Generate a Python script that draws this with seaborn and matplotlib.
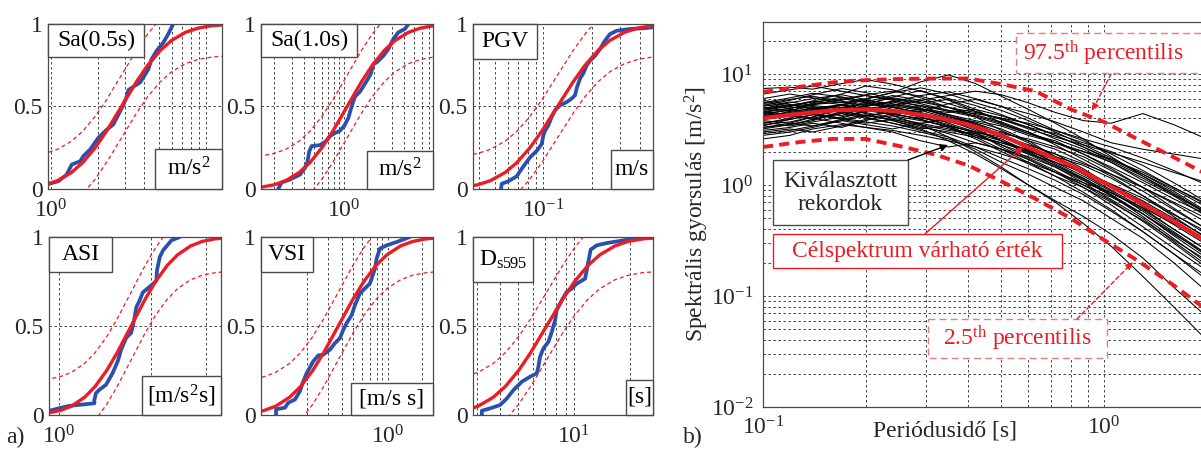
import numpy as np
import pandas as pd
import matplotlib
matplotlib.use("Agg")
import matplotlib.pyplot as plt
import seaborn as sns
from matplotlib.patches import Rectangle, FancyArrowPatch
from matplotlib.ticker import NullFormatter

sns.set_style("white")
plt.rcParams["font.family"] = ["Liberation Serif", "DejaVu Serif"]
plt.rcParams["mathtext.fontset"] = "custom"
plt.rcParams["mathtext.rm"] = "Liberation Serif"
plt.rcParams["mathtext.it"] = "Liberation Serif:italic"
plt.rcParams["mathtext.bf"] = "Liberation Serif:bold"
plt.rcParams["mathtext.default"] = "regular"

# ------------------------------------------------------------------ data a)
panel_names = ["Sa(0.5s)", "Sa(1.0s)", "PGV", "ASI", "VSI", r"D$_{\mathrm{s595}}$"]
panel_units = ["m/s$^2$", "m/s$^2$", "m/s", "[m/s$^2$s]", "[m/s s]", "[s]"]

# fitted lognormal CDF read at probability levels, with KS band levels
cdf_levels = [0.003, 0.01, 0.025, 0.05, 0.10, 0.16, 0.25, 0.35, 0.50, 0.65, 0.75, 0.84, 0.90, 0.95, 0.975, 0.99, 0.997]
band_upper = [0.193, 0.20, 0.215, 0.24, 0.29, 0.35, 0.44, 0.54, 0.69, 0.84, 0.94, 1.03, 1.09, 1.14, 1.165, 1.18, 1.187]
band_lower = [-0.187, -0.18, -0.165, -0.14, -0.09, -0.03, 0.06, 0.16, 0.31, 0.46, 0.56, 0.65, 0.71, 0.76, 0.785, 0.80, 0.807]

fit_x_sa05 = [0.578, 0.740, 0.914, 1.098, 1.356, 1.601, 1.928, 2.280, 2.85, 3.563, 4.212, 5.076, 5.991, 7.399, 8.883, 10.98, 14.04]
fit_x_sa10 = [0.1007, 0.145, 0.1988, 0.2609, 0.3568, 0.4568, 0.6019, 0.7721, 1.075, 1.497, 1.920, 2.531, 3.239, 4.429, 5.815, 7.967, 11.48]
fit_x_pgv = [0.02459, 0.03151, 0.03898, 0.04686, 0.05798, 0.06859, 0.08261, 0.09782, 0.1225, 0.1534, 0.1817, 0.2188, 0.2588, 0.3202, 0.3849, 0.4763, 0.6104]
fit_x_asi = [0.8127, 0.9117, 1.0075, 1.098, 1.2117, 1.3102, 1.4294, 1.5463, 1.717, 1.9066, 2.0625, 2.2501, 2.4332, 2.6849, 2.926, 3.2335, 3.6277]
fit_x_vsi = [0.04602, 0.0635, 0.08385, 0.1066, 0.1405, 0.1748, 0.2229, 0.2776, 0.372, 0.4985, 0.6209, 0.7916, 0.9851, 1.298, 1.651, 2.180, 3.008]
fit_x_ds = [1.728, 2.149, 2.596, 3.052, 3.680, 4.267, 5.032, 5.841, 7.12, 8.679, 10.07, 11.88, 13.78, 16.61, 19.53, 23.60, 29.33]

# empirical CDFs of the selected records
emp_x_sa05 = [0.96, 1.114, 1.262, 1.36, 1.54, 1.62, 1.79, 2.02, 2.29, 2.52, 2.72, 2.86, 3.08, 3.16, 3.40, 3.75, 3.94, 4.25, 4.46, 4.81, 5.31, 5.71, 6.15]
emp_F_sa05 = [0.03, 0.047, 0.087, 0.148, 0.168, 0.20, 0.24, 0.31, 0.36, 0.39, 0.45, 0.49, 0.56, 0.60, 0.62, 0.645, 0.675, 0.726, 0.787, 0.838, 0.888, 0.939, 1.0]
emp_x_sa10 = [0.220, 0.238, 0.288, 0.363, 0.407, 0.429, 0.450, 0.475, 0.575, 0.661, 0.724, 0.813, 0.898, 1.0, 1.105, 1.166, 1.222, 1.288, 1.445, 1.686, 1.849, 1.965, 2.123, 2.472, 2.774, 3.112, 3.49, 4.07, 4.40]
emp_F_sa10 = [0.0, 0.04, 0.057, 0.087, 0.128, 0.158, 0.229, 0.26, 0.266, 0.29, 0.32, 0.34, 0.35, 0.38, 0.43, 0.48, 0.52, 0.56, 0.59, 0.655, 0.696, 0.757, 0.767, 0.807, 0.848, 0.909, 0.949, 0.97, 1.0]
emp_x_pgv = [0.0546, 0.0552, 0.0607, 0.0684, 0.0717, 0.0769, 0.0826, 0.091, 0.0977, 0.100, 0.1025, 0.1074, 0.1127, 0.1182, 0.127, 0.1397, 0.150, 0.1574, 0.161, 0.169, 0.177, 0.186, 0.195, 0.2094, 0.2249, 0.2415, 0.2595, 0.2858, 0.346, 0.418, 0.479]
emp_F_pgv = [0.0, 0.032, 0.047, 0.077, 0.108, 0.150, 0.191, 0.231, 0.272, 0.323, 0.353, 0.385, 0.436, 0.477, 0.507, 0.527, 0.548, 0.568, 0.609, 0.669, 0.700, 0.75, 0.777, 0.807, 0.848, 0.899, 0.939, 0.959, 0.970, 0.974, 0.980]
emp_x_asi = [0.927, 1.0, 1.078, 1.163, 1.303, 1.303, 1.319, 1.353, 1.422, 1.495, 1.553, 1.593, 1.655, 1.718, 1.762, 1.784, 1.828, 1.875, 2.023, 2.075, 2.084, 2.128, 2.182, 2.323, 2.473]
emp_F_asi = [0.023, 0.038, 0.051, 0.057, 0.066, 0.085, 0.123, 0.142, 0.17, 0.236, 0.302, 0.368, 0.434, 0.462, 0.547, 0.604, 0.642, 0.689, 0.736, 0.755, 0.811, 0.887, 0.925, 0.981, 1.0]
emp_x_vsi = [0.1069, 0.1069, 0.1279, 0.1367, 0.1563, 0.1726, 0.1824, 0.1977, 0.2256, 0.2493, 0.2754, 0.3148, 0.3481, 0.3846, 0.4111, 0.4395, 0.4864, 0.5198, 0.5741, 0.635, 0.7015, 0.776, 0.802, 0.857, 0.98, 1.197, 1.563]
emp_F_vsi = [0.0, 0.032, 0.041, 0.069, 0.087, 0.134, 0.181, 0.236, 0.302, 0.335, 0.339, 0.367, 0.404, 0.432, 0.479, 0.516, 0.562, 0.618, 0.684, 0.711, 0.739, 0.823, 0.879, 0.935, 0.953, 0.972, 1.0]
emp_x_ds = [3.19, 3.19, 3.53, 4.0, 4.35, 4.72, 5.24, 5.80, 6.30, 6.43, 6.56, 6.84, 7.28, 7.59, 7.91, 8.07, 8.59, 9.14, 9.72, 10.34, 11.47, 11.79, 12.29, 13.24, 14.99, 18.41, 22.6, 26.6]
emp_F_ds = [0.0, 0.024, 0.037, 0.056, 0.093, 0.140, 0.187, 0.215, 0.234, 0.271, 0.327, 0.374, 0.411, 0.467, 0.533, 0.589, 0.645, 0.692, 0.710, 0.738, 0.766, 0.832, 0.929, 0.953, 0.966, 0.981, 0.996, 1.0]

# axis limits / labelled decades / minor grid positions
xlims = [(0.956, 12.7), (0.148, 7.76), (0.0366, 0.480), (0.927, 3.37), (0.0791, 2.48), (2.86, 26.6)]
major_ticks = [[1], [1], [0.1], [1], [1], [10]]
major_labels = [[r"$10^{0}$"], [r"$10^{0}$"], [r"$10^{-1}$"], [r"$10^{0}$"], [r"$10^{0}$"], [r"$10^{1}$"]]
minor_ticks = [[2, 3, 4, 5, 6, 7, 8, 9, 10],
               [0.2, 0.3, 0.4, 0.5, 0.6, 0.7, 0.8, 0.9, 2, 3, 4, 5, 6, 7],
               [0.04, 0.05, 0.06, 0.07, 0.08, 0.09, 0.2, 0.3, 0.4],
               [2, 3],
               [0.2, 0.3, 0.4, 0.5, 0.6, 0.7, 0.8, 0.9, 2],
               [3, 4, 5, 6, 7, 8, 9, 20]]
cdf_yticks = [0, 0.5, 1]
cdf_yticklabels = ["0", "0.5", "1"]

# ------------------------------------------------------------------ data b)
periods_rec = [0.10, 0.12, 0.14, 0.17, 0.20, 0.24, 0.29, 0.35, 0.42, 0.50, 0.60, 0.72, 0.87, 1.05, 1.30, 1.60, 2.00]
rec_01 = [5.2, 5.8, 6.5, 7.4, 6.8, 6.0, 5.5, 5.9, 4.8, 3.6, 2.9, 2.5, 1.9, 1.4, 0.95, 0.62, 0.40]
rec_02 = [3.6, 4.0, 4.6, 4.2, 5.1, 5.6, 4.9, 4.1, 3.7, 3.2, 2.5, 1.8, 1.5, 1.15, 0.80, 0.55, 0.36]
rec_03 = [4.5, 4.2, 3.9, 4.4, 5.3, 6.2, 7.1, 5.8, 4.6, 3.9, 3.3, 2.6, 2.1, 1.6, 1.1, 0.80, 0.52]
rec_04 = [2.9, 3.1, 3.4, 3.9, 4.3, 3.8, 3.3, 3.0, 2.7, 2.4, 2.0, 1.7, 1.25, 0.90, 0.62, 0.40, 0.26]
rec_05 = [6.0, 6.6, 6.1, 5.5, 5.9, 6.8, 8.5, 9.8, 8.2, 6.3, 4.8, 3.6, 2.6, 1.8, 1.2, 0.82, 0.55]
rec_06 = [3.3, 3.5, 3.8, 4.6, 5.0, 4.4, 3.9, 3.3, 2.6, 2.0, 1.55, 1.2, 0.95, 0.70, 0.48, 0.32, 0.21]
rec_07 = [4.8, 5.3, 5.0, 4.7, 4.2, 4.5, 5.2, 4.7, 4.4, 4.0, 3.3, 2.9, 2.4, 2.0, 1.5, 1.05, 0.70]
rec_08 = [4.1, 4.6, 5.5, 6.2, 5.7, 5.1, 4.4, 3.6, 3.0, 2.2, 1.7, 1.3, 0.95, 0.66, 0.42, 0.27, 0.17]
rec_09 = [3.8, 3.6, 4.1, 4.9, 4.5, 4.0, 3.6, 3.9, 3.4, 2.9, 2.6, 2.2, 1.8, 1.35, 0.95, 0.70, 0.50]
rec_10 = [5.6, 5.1, 5.7, 6.6, 7.8, 7.2, 6.1, 5.0, 4.1, 3.1, 2.4, 1.8, 1.35, 1.0, 0.70, 0.48, 0.30]
rec_11 = [2.6, 2.8, 3.2, 3.5, 3.3, 3.0, 2.5, 2.2, 2.4, 2.1, 1.7, 1.3, 1.0, 0.78, 0.55, 0.36, 0.24]
rec_12 = [4.3, 4.8, 4.4, 4.0, 4.6, 5.3, 4.9, 4.2, 3.5, 2.7, 2.3, 1.9, 1.4, 0.98, 0.64, 0.44, 0.29]
rec_13 = [5.0, 4.6, 4.9, 5.3, 4.8, 4.3, 4.6, 5.4, 5.9, 5.1, 4.0, 3.1, 2.5, 1.9, 1.35, 0.95, 0.66]
rec_14 = [3.4, 3.9, 4.3, 3.9, 3.6, 3.9, 3.4, 2.9, 2.4, 2.1, 1.8, 1.45, 1.1, 0.80, 0.55, 0.37, 0.23]
rec_15 = [6.6, 7.2, 7.8, 7.0, 6.4, 5.8, 5.1, 4.3, 3.6, 2.8, 2.1, 1.55, 1.15, 0.82, 0.55, 0.35, 0.22]
rec_16 = [4.6, 4.9, 5.4, 5.8, 6.4, 5.9, 5.4, 4.7, 4.2, 3.6, 3.0, 2.3, 1.7, 1.25, 0.88, 0.60, 0.40]
rec_17 = [3.1, 3.3, 3.6, 3.3, 3.8, 4.4, 4.8, 4.3, 3.8, 3.4, 2.8, 2.4, 2.0, 1.7, 1.3, 0.95, 0.68]
rec_18 = [4.4, 4.1, 4.5, 5.0, 5.4, 5.0, 4.5, 3.9, 3.2, 2.5, 1.9, 1.45, 1.05, 0.74, 0.50, 0.31, 0.19]
rec_19 = [5.4, 5.9, 6.3, 5.7, 5.2, 5.6, 6.4, 6.9, 6.0, 5.1, 4.4, 3.7, 3.0, 2.4, 2.1, 1.9, 1.7]
rec_20 = [3.9, 4.3, 4.0, 3.6, 3.3, 3.1, 2.8, 2.5, 2.2, 1.9, 1.6, 1.3, 1.05, 0.85, 0.62, 0.45, 0.32]
rec_21 = [4.9, 5.5, 6.0, 6.5, 5.9, 5.2, 4.7, 4.0, 3.6, 3.0, 2.5, 2.1, 1.6, 1.2, 0.80, 0.52, 0.33]
rec_22 = [3.5, 3.7, 4.1, 4.8, 5.6, 6.4, 5.8, 5.0, 4.3, 3.7, 3.0, 2.4, 1.9, 1.45, 1.05, 0.75, 0.54]
rec_23 = [4.2, 4.5, 4.9, 4.5, 4.1, 3.6, 3.2, 3.4, 3.0, 2.6, 2.0, 1.5, 1.15, 0.85, 0.60, 0.40, 0.26]
rec_24 = [5.8, 5.3, 4.8, 5.2, 5.8, 5.4, 4.8, 4.5, 4.8, 4.2, 3.5, 2.8, 2.2, 1.7, 1.25, 0.92, 0.63]
rec_25 = [3.0, 3.2, 3.0, 3.4, 3.9, 4.2, 3.8, 3.4, 3.0, 2.7, 2.2, 1.75, 1.35, 1.0, 0.72, 0.50, 0.34]
rec_26 = [4.7, 5.1, 5.6, 6.0, 5.5, 4.8, 4.1, 3.4, 2.7, 2.1, 1.6, 1.2, 0.86, 0.60, 0.38, 0.24, 0.14]
rec_27 = [4.0, 4.4, 4.8, 5.3, 6.0, 6.8, 7.5, 6.6, 5.5, 4.7, 3.8, 3.0, 2.3, 1.75, 1.25, 0.88, 0.58]
rec_28 = [3.7, 3.4, 3.7, 4.1, 4.7, 4.3, 4.0, 3.7, 3.3, 2.8, 2.3, 1.9, 1.55, 1.25, 0.95, 0.68, 0.46]
rec_29 = [7.4, 7.6, 7.3, 8.2, 8.9, 8.1, 7.0, 6.0, 5.2, 4.3, 3.5, 2.8, 2.2, 1.65, 1.2, 0.85, 0.56]
rec_30 = [4.4, 4.7, 5.1, 4.6, 4.2, 4.6, 4.1, 3.5, 2.9, 2.3, 1.75, 1.35, 1.0, 0.72, 0.47, 0.30, 0.18]
rec_31 = [3.2, 3.5, 3.9, 4.4, 4.0, 3.6, 3.1, 2.7, 2.2, 1.75, 1.4, 1.1, 0.82, 0.58, 0.38, 0.24, 0.15]
rec_32 = [5.1, 5.6, 5.2, 4.9, 5.4, 6.1, 5.6, 5.0, 4.5, 4.0, 3.6, 3.1, 2.6, 2.2, 1.75, 1.35, 1.0]
rec_33 = [4.6, 4.3, 4.7, 5.2, 4.8, 4.4, 3.9, 3.3, 2.8, 2.4, 2.1, 1.7, 1.3, 0.95, 0.66, 0.46, 0.31]
rec_34 = [2.8, 3.0, 3.3, 3.8, 3.5, 3.2, 3.6, 3.2, 2.8, 2.3, 1.9, 1.6, 1.3, 1.02, 0.76, 0.54, 0.38]
rec_35 = [5.5, 6.1, 6.7, 6.2, 5.6, 5.0, 4.4, 3.8, 3.1, 2.5, 1.95, 1.5, 1.12, 0.80, 0.52, 0.33, 0.20]
rec_36 = [4.0, 4.3, 4.0, 4.5, 5.1, 5.7, 5.2, 4.6, 4.1, 3.5, 2.9, 2.4, 2.0, 1.6, 1.15, 0.82, 0.57]
rec_37 = [4.8, 5.2, 5.7, 5.3, 4.9, 5.2, 5.8, 6.4, 7.0, 6.5, 5.5, 4.5, 3.8, 3.6, 4.4, 3.5, 2.6]
rec_38 = [3.6, 3.9, 4.3, 4.0, 3.7, 3.4, 3.0, 2.6, 2.1, 1.6, 1.25, 0.95, 0.72, 0.50, 0.33, 0.20, 0.11]
rec_39 = [5.3, 4.9, 5.3, 5.9, 6.5, 7.0, 6.3, 5.4, 4.6, 3.9, 3.2, 2.7, 2.3, 1.95, 1.6, 1.3, 1.05]
rec_40 = [3.3, 3.6, 3.4, 3.8, 4.2, 3.9, 3.5, 3.1, 2.9, 2.5, 2.05, 1.6, 1.2, 0.88, 0.58, 0.38, 0.24]
rec_41 = [4.5, 4.9, 5.3, 5.6, 5.0, 4.2, 3.5, 2.7, 2.0, 1.45, 1.0, 0.70, 0.45, 0.28, 0.15, 0.08, 0.04]
rec_42 = [3.9, 4.2, 4.6, 4.9, 4.4, 3.8, 3.2, 2.5, 1.9, 1.4, 1.0, 0.72, 0.52, 0.36, 0.22, 0.12, 0.065]
records = [rec_01, rec_02, rec_03, rec_04, rec_05, rec_06, rec_07, rec_08, rec_09, rec_10,
           rec_11, rec_12, rec_13, rec_14, rec_15, rec_16, rec_17, rec_18, rec_19, rec_20,
           rec_21, rec_22, rec_23, rec_24, rec_25, rec_26, rec_27, rec_28, rec_29, rec_30,
           rec_31, rec_32, rec_33, rec_34, rec_35, rec_36, rec_37, rec_38, rec_39, rec_40,
           rec_41, rec_42]

periods_target = [0.10, 0.13, 0.16, 0.20, 0.25, 0.32, 0.40, 0.50, 0.63, 0.80, 1.00, 1.25, 1.60, 2.00]
target_mean = [4.0, 4.4, 4.7, 4.8, 4.6, 4.1, 3.5, 2.8, 2.05, 1.5, 1.05, 0.72, 0.47, 0.31]
target_p975 = [6.9, 7.7, 8.4, 8.8, 9.0, 9.1, 9.1, 8.1, 7.0, 4.8, 3.7, 2.6, 1.78, 1.25]
target_p025 = [2.2, 2.45, 2.6, 2.6, 2.25, 1.88, 1.5, 1.08, 0.75, 0.5, 0.32, 0.21, 0.125, 0.075]

b_xticks = [0.1, 1]
b_xticklabels = [r"$10^{-1}$", r"$10^{0}$"]
b_yticks = [0.01, 0.1, 1, 10]
b_yticklabels = [r"$10^{-2}$", r"$10^{-1}$", r"$10^{0}$", r"$10^{1}$"]

# ------------------------------------------------------------------ style
W, H = 1201, 450
RED = "#ec1c24"
BLUE = "#2b4fae"
GRIDC = "#2a2a2a"
SPINE = "#4a4a4a"
FS = 17

fig = plt.figure(figsize=(W / 100, H / 100), dpi=100)


def add_ax(x0, y0, x1, y1):
    return fig.add_axes([x0 / W, 1 - y1 / H, (x1 - x0) / W, (y1 - y0) / H])


def corner_box(ax, text, wpx, hpx, where, color="black", edge=SPINE):
    bb = ax.get_position()
    aw, ah = bb.width * W, bb.height * H
    wf, hf = wpx / aw, hpx / ah
    if where == "ul":
        x0, y0 = 0, 1 - hf
    else:
        x0, y0 = 1 - wf, 0
    ax.add_patch(Rectangle((x0, y0), wf, hf, transform=ax.transAxes, facecolor="white",
                           edgecolor=edge, lw=1.0, zorder=6, clip_on=False))
    ax.text(x0 + wf / 2, y0 + hf / 2, text, transform=ax.transAxes, ha="center", va="center",
            fontsize=FS, color=color, zorder=7)


rects = [(48, 24, 222, 189), (261, 24, 433, 189), (473, 24, 653, 189),
         (49, 237, 221, 415), (261, 237, 433, 415), (473, 237, 653, 415)]
name_boxes = [(96, 33), (96, 33), (64, 35), (63, 35), (52, 35), (60, 45)]
unit_boxes = [(67, 40), (66, 38), (42, 39), (79, 39), (82, 32), (27, 35)]
fit_xs = [fit_x_sa05, fit_x_sa10, fit_x_pgv, fit_x_asi, fit_x_vsi, fit_x_ds]
emp_xs = [emp_x_sa05, emp_x_sa10, emp_x_pgv, emp_x_asi, emp_x_vsi, emp_x_ds]
emp_Fs = [emp_F_sa05, emp_F_sa10, emp_F_pgv, emp_F_asi, emp_F_vsi, emp_F_ds]

for i in range(6):
    ax = add_ax(*rects[i])
    ax.set_xscale("log")
    ax.set_xlim(*xlims[i])
    ax.set_ylim(0, 1)
    ax.set_xticks(major_ticks[i], labels=major_labels[i])
    ax.set_xticks(minor_ticks[i], minor=True)
    ax.xaxis.set_minor_formatter(NullFormatter())
    ax.set_yticks(cdf_yticks, labels=cdf_yticklabels)
    ax.grid(True, axis="x", which="both", color=GRIDC, lw=0.6, linestyle=(0, (3, 3)))
    ax.grid(True, axis="y", which="major", color=GRIDC, lw=0.6, linestyle=(0, (3, 3)))
    ax.tick_params(axis="both", which="both", length=0, labelsize=FS)
    ax.tick_params(axis="x", pad=7.5)
    ax.tick_params(axis="y", pad=4)
    for sp in ax.spines.values():
        sp.set_color(SPINE)
        sp.set_linewidth(0.9)

    sns.lineplot(x=emp_xs[i], y=emp_Fs[i], sort=False, estimator=None, color=BLUE,
                 lw=2.7, ax=ax, legend=False)
    sns.lineplot(x=fit_xs[i], y=band_upper, sort=False, estimator=None, color=RED,
                 lw=0.9, ax=ax, legend=False)
    ax.lines[-1].set_dashes([3.2, 2.4])
    sns.lineplot(x=fit_xs[i], y=band_lower, sort=False, estimator=None, color=RED,
                 lw=0.9, ax=ax, legend=False)
    ax.lines[-1].set_dashes([3.2, 2.4])
    sns.lineplot(x=fit_xs[i], y=cdf_levels, sort=False, estimator=None, color=RED,
                 lw=2.4, ax=ax, legend=False)
    ax.set_xlabel("")
    ax.set_ylabel("")

    corner_box(ax, panel_names[i], *name_boxes[i], "ul")
    corner_box(ax, panel_units[i], *unit_boxes[i], "lr")

# ------------------------------------------------------------------ panel b)
axb = add_ax(763, 22, 1201, 407)
axb.set_xscale("log")
axb.set_yscale("log")
axb.set_xlim(0.1, 1.925)
axb.set_ylim(0.01, 29.4)

rec_df = pd.DataFrame({
    "period": periods_rec * len(records),
    "sa": [v for r in records for v in r],
    "rec": [k for k, r in enumerate(records) for _ in r],
})
sns.lineplot(data=rec_df, x="period", y="sa", units="rec", estimator=None, sort=False,
             color="black", lw=0.75, ax=axb, legend=False)
sns.lineplot(x=periods_target, y=target_p975, sort=False, estimator=None, color=RED, lw=2.8,
             ax=axb, legend=False)
axb.lines[-1].set_dashes([2.6, 1.6])
sns.lineplot(x=periods_target, y=target_p025, sort=False, estimator=None, color=RED, lw=2.8,
             ax=axb, legend=False)
axb.lines[-1].set_dashes([2.6, 1.6])
sns.lineplot(x=periods_target, y=target_mean, sort=False, estimator=None, color=RED, lw=3.0,
             ax=axb, legend=False)

axb.set_xticks(b_xticks, labels=b_xticklabels)
axb.set_xticks([0.2, 0.3, 0.4, 0.5, 0.6, 0.7, 0.8, 0.9], minor=True)
axb.xaxis.set_minor_formatter(NullFormatter())
axb.set_yticks(b_yticks, labels=b_yticklabels)
axb.set_yticks([k * 10.0 ** e for e in (-2, -1, 0, 1) for k in range(2, 10) if k * 10.0 ** e < 29.4],
               minor=True)
axb.yaxis.set_minor_formatter(NullFormatter())
axb.grid(True, which="both", color=GRIDC, lw=0.6, linestyle=(0, (3, 3)))
axb.tick_params(axis="both", which="both", length=0, labelsize=FS)
axb.tick_params(axis="x", pad=7)
axb.tick_params(axis="y", pad=7)
for sp in axb.spines.values():
    sp.set_color(SPINE)
    sp.set_linewidth(0.9)
axb.spines["right"].set_visible(False)
axb.set_xlabel("Periódusidő [s]", fontsize=FS)
axb.xaxis.set_label_coords(0.416, -0.035)
axb.set_ylabel("Spektrális gyorsulás [m/s$^2$]", fontsize=FS)
axb.yaxis.set_label_coords(-0.118, 0.5)

# ------------------------------------------------------------------ annotations (pixel overlay)
ov = fig.add_axes([0, 0, 1, 1], zorder=10)
ov.set_xlim(0, W)
ov.set_ylim(H, 0)
ov.set_axis_off()
ov.patch.set_visible(False)


def box(x0, y0, x1, y1, edge, ls="-"):
    ov.add_patch(Rectangle((x0, y0), x1 - x0, y1 - y0, facecolor="white", edgecolor=edge,
                           lw=1.0, linestyle=ls, clip_on=False))


def arrow(p0, p1, color, ls="-"):
    ov.add_patch(FancyArrowPatch(p0, p1, arrowstyle="-|>", mutation_scale=11, color=color,
                                 lw=1.0, linestyle=ls, shrinkA=0, shrinkB=0))


box(773, 160, 908, 225, SPINE)
ov.text(840.5, 193, "Kiválasztott\nrekordok", ha="center", va="center", fontsize=FS,
        linespacing=1.15)
arrow((908, 160), (948, 145), "black")

box(773, 234, 1062, 268, RED)
ov.text(917.5, 251, "Célspektrum várható érték", ha="center", va="center", fontsize=FS,
        color=RED)
arrow((925, 234), (1023, 147), RED)

box(1016, 33, 1220, 73, "#f07a7a", ls=(0, (5, 3)))
ov.text(1023, 53, r"97.5$^{\mathrm{th}}$ percentilis", ha="left", va="center", fontsize=FS,
        color=RED)
arrow((1111, 74), (1092, 111), RED, ls=(0, (3, 2)))

box(928, 319, 1107, 358, "#f07a7a", ls=(0, (5, 3)))
ov.text(1017.5, 338, r"2.5$^{\mathrm{th}}$ percentilis", ha="center", va="center", fontsize=FS,
        color=RED)
arrow((1077, 319), (1133, 262), RED, ls=(0, (3, 2)))

ov.text(6, 437, "a)", ha="left", va="center", fontsize=FS)
ov.text(683, 437, "b)", ha="left", va="center", fontsize=FS)

fig.savefig("out.png", dpi=100)
